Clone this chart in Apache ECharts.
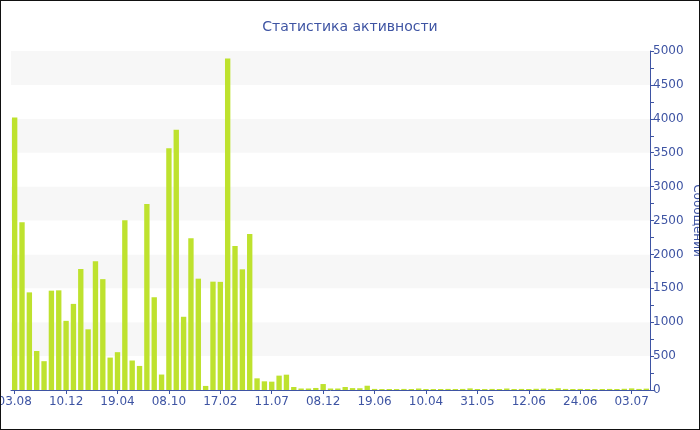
<!DOCTYPE html>
<html>
<head>
<meta charset="utf-8">
<script src="https://cdn.jsdelivr.net/npm/echarts@6/dist/echarts.min.js"></script>
<style>
html,body{margin:0;padding:0;background:#fff;}
#c{width:700px;height:430px;box-sizing:border-box;border:1px solid #111;}
</style>
</head>
<body>
<div id="c"></div>
<script>
var titleText = 'Статистика активности';
var yName = 'Сообщений';
var tickLabels = ['03.08','10.12','19.04','08.10','17.02','11.07','08.12','19.06','10.04','31.05','12.06','24.06','03.07'];
var messages = [
  4020, 2475, 1440, 575, 425, 1465, 1470, 1020, 1270, 1785,
  895, 1900, 1635, 478, 558, 2505, 435, 355, 2745, 1368,
  228, 3565, 3840, 1080, 2238, 1642, 60, 1598, 1595, 4890,
  2125, 1780, 2300, 172, 128, 123, 212, 226, 44, 22,
  22, 30, 88, 22, 22, 44, 28, 26, 63, 16,
  14, 15, 14, 16, 15, 22, 15, 14, 15, 16,
  15, 16, 24, 15, 14, 16, 15, 22, 15, 16,
  15, 18, 20, 16, 26, 16, 15, 16, 15, 14,
  15, 16, 15, 18, 24, 16, 20
];
var categories = messages.map(function (_, i) { return String(i); });

var blue = '#3e54a3';
var chart = echarts.init(document.getElementById('c'), null, {renderer: 'canvas'});
chart.setOption({
  animation: false,
  backgroundColor: '#ffffff',
  textStyle: {fontFamily: 'DejaVu Sans'},
  title: {
    text: titleText,
    left: 'center',
    top: 14,
    textStyle: {color: blue, fontSize: 14, fontWeight: 'normal', fontFamily: 'DejaVu Sans'}
  },
  grid: {left: 10, right: 49, top: 50, bottom: 39, containLabel: false, outerBoundsMode: 'none'},
  xAxis: {
    type: 'category',
    data: categories,
    boundaryGap: true,
    axisLine: {show: true, lineStyle: {color: blue, width: 1}},
    axisTick: {
      show: true, alignWithLabel: true, length: 4,
      interval: function (i) { return i % 7 === 0; },
      lineStyle: {color: blue}
    },
    axisLabel: {
      color: blue, fontSize: 12, margin: 6,
      interval: function (i) { return i % 7 === 0; },
      formatter: function (v, i) { return tickLabels[Math.floor(i / 7)] || ''; }
    },
    splitLine: {show: false}
  },
  yAxis: {
    type: 'value',
    position: 'right',
    min: 0, max: 5000, interval: 500,
    name: yName,
    nameLocation: 'middle',
    nameRotate: -90,
    nameGap: 41,
    nameMoveOverlap: false,
    nameTextStyle: {color: blue, fontSize: 12},
    axisLine: {show: true, lineStyle: {color: blue, width: 1}},
    axisTick: {show: true, length: 4, lineStyle: {color: blue}},
    minorTick: {show: true, splitNumber: 2, length: 4, lineStyle: {color: blue}},
    axisLabel: {color: blue, fontSize: 12, margin: 3, formatter: function (v) { return String(v); }},
    splitLine: {show: false},
    splitArea: {show: true, areaStyle: {color: ['#ffffff', '#f7f7f7']}}
  },
  series: [{
    type: 'bar',
    data: messages,
    barCategoryGap: '27%',
    itemStyle: {color: '#bee22e'}
  }]
});
</script>
</body>
</html>
